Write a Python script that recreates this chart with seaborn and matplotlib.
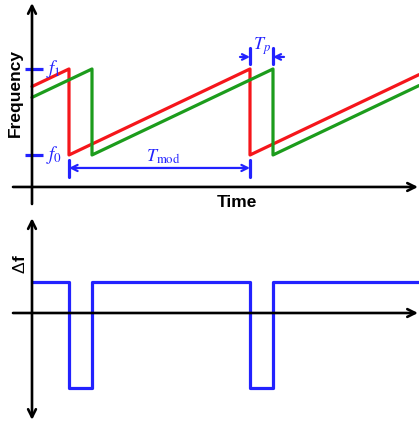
import matplotlib
matplotlib.use("Agg")
import matplotlib.pyplot as plt
import seaborn as sns

sns.set_theme(style="white")
plt.rcParams["font.family"] = ["Liberation Sans", "DejaVu Sans"]
plt.rcParams["mathtext.fontset"] = "stix"

# ---- data (time in arbitrary units, frequency normalised f0=0, f1=1) ----
t_red = [0, 37, 37, 218, 218, 387]
f_red = [0.796, 1.0, 0.0, 1.0, 0.0, 0.934]
t_green = [0, 60, 60, 241, 241, 387]
f_green = [0.669, 1.0, 0.0, 1.0, 0.0, 0.807]
t_beat = [0, 37, 37, 60, 60, 218, 218, 241, 241, 387]
df_beat = [1.0, 1.0, -2.42, -2.42, 1.0, 1.0, -2.42, -2.42, 1.0, 1.0]
level_labels = [r"$f_1$", r"$f_0$"]
level_values = [1.0, 0.0]

RED = "#f5161b"
GREEN = "#1c9c1c"
BLUE = "#2222ff"
LW = 2.3
AX_LW = 1.9

fig = plt.figure(figsize=(4.19, 4.25), dpi=100)
ax1 = fig.add_axes([0, 213 / 425, 1, 212 / 425])
ax2 = fig.add_axes([0, 0, 1, 213 / 425])
for ax in (ax1, ax2):
    ax.axis("off")
    ax.set_xlim(-32, 387)
ax1.set_ylim(-0.663, 1.802)
ax2.set_ylim(-3.613, 3.258)

sns.lineplot(x=t_red, y=f_red, sort=False, estimator=None, color=RED, lw=LW, ax=ax1)
sns.lineplot(x=t_green, y=f_green, sort=False, estimator=None, color=GREEN, lw=LW, ax=ax1)
sns.lineplot(x=t_beat, y=df_beat, sort=False, estimator=None, color=BLUE, lw=LW, ax=ax2)

def arrow(ax, x0, y0, x1, y1, style="->", color="black", lw=AX_LW, ms=14):
    ax.annotate("", xy=(x1, y1), xytext=(x0, y0),
                arrowprops=dict(arrowstyle=style, color=color, lw=lw,
                                mutation_scale=ms, shrinkA=0, shrinkB=0))

# axes of the top panel
arrow(ax1, 0, -0.57, 0, 1.767)
arrow(ax1, -19, -0.372, 386, -0.372)
# axes of the bottom panel
arrow(ax2, 0, -3.45, 0, 3.06, style="<->")
arrow(ax2, -19, 0, 386, 0)

# f1 / f0 ticks and labels
for lab, v in zip(level_labels, level_values):
    ax1.plot([-7, 11], [v, v], color=BLUE, lw=LW, solid_capstyle="butt")
    ax1.text(14, v, lab, color=BLUE, fontsize=13.5, ha="left", va="center")

# T_mod dimension
ax1.plot([37, 37], [-0.058, -0.256], color=BLUE, lw=LW)
ax1.plot([218, 218], [-0.058, -0.256], color=BLUE, lw=LW)
arrow(ax1, 37, -0.151, 218, -0.151, style="<->", color=BLUE, lw=1.6, ms=11)
ax1.text(131, -0.02, r"$T_{\rm mod}$", color=BLUE, fontsize=13, ha="center", va="center")

# T_p dimension
ax1.plot([218, 218], [1.244, 1.058], color=BLUE, lw=LW)
ax1.plot([241, 241], [1.244, 1.058], color=BLUE, lw=LW)
arrow(ax1, 208, 1.14, 218, 1.14, color=BLUE, lw=1.6, ms=10)
arrow(ax1, 252, 1.14, 241, 1.14, color=BLUE, lw=1.6, ms=10)
ax1.text(230, 1.26, r"$T_p$", color=BLUE, fontsize=13, ha="center", va="center")

# axis titles
ax1.text(-17, 0.72, "Frequency", rotation=90, fontsize=12.5, fontweight="bold",
         ha="center", va="center", color="black")
ax1.text(205, -0.558, "Time", fontsize=12.5, fontweight="bold",
         ha="center", va="center", color="black")
ax2.text(-12, 1.29, "\u0394", rotation=90, fontsize=12.5,
         ha="center", va="bottom", color="black")
ax2.text(-12, 1.67, "f", rotation=90, fontsize=12.5, fontweight="bold",
         ha="center", va="bottom", color="black")

fig.savefig("out.png", dpi=100)
